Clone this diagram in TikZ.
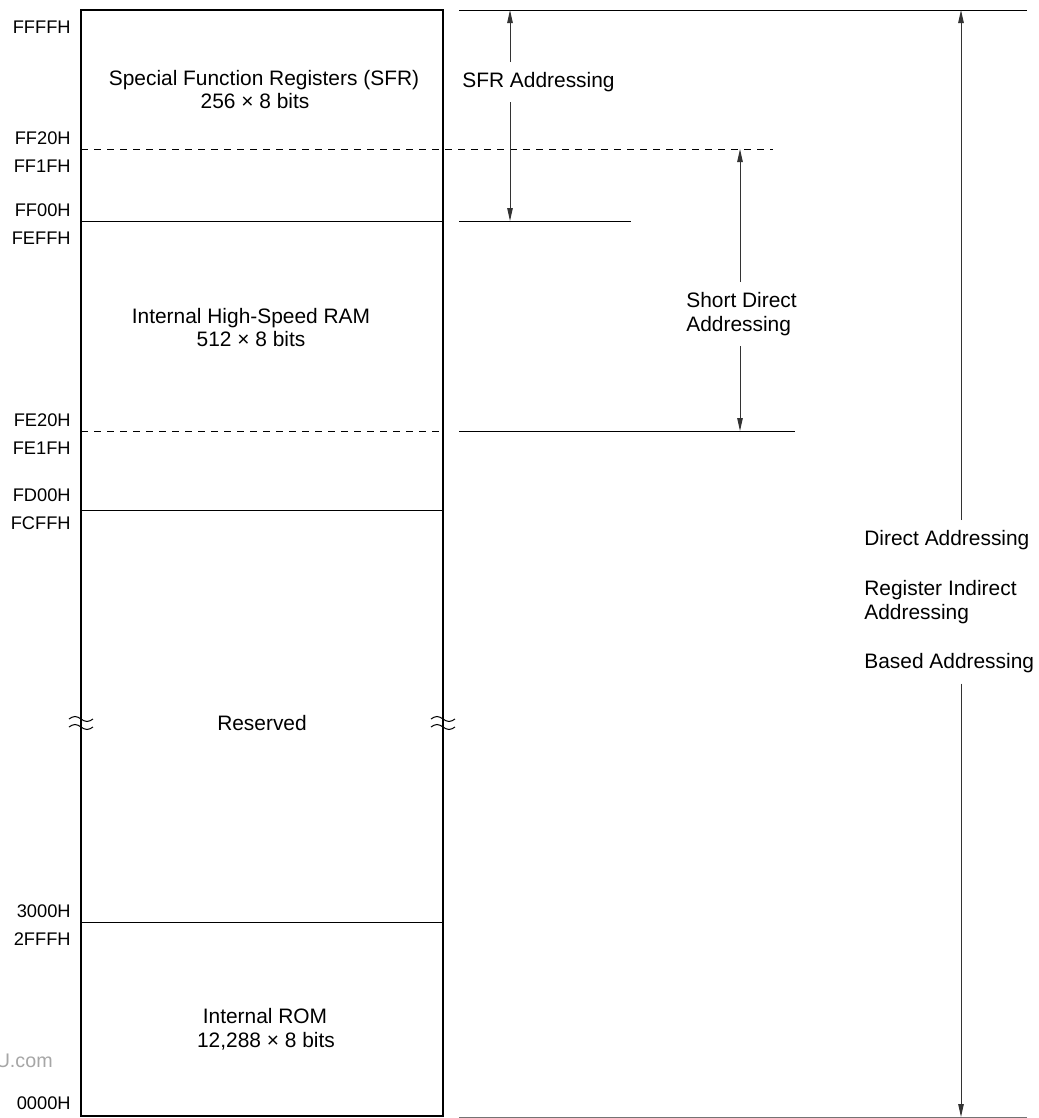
\documentclass[tikz,border=0pt]{standalone}
\usepackage{fontspec}
\setmainfont{Liberation Sans}
\usetikzlibrary{arrows.meta}
\tikzset{
    memmap/.style={
        x=0.2mm, y=-0.2mm,
        line cap=butt,
        every node/.style={inner sep=0pt},
    },
    addrlabel/.style={anchor=base east, font=\fontsize{10.4}{12}\selectfont},
    areatext/.style={anchor=base, font=\fontsize{11.9}{13.6}\selectfont},
    modelabel/.style={anchor=north west, align=left, inner xsep=0pt, inner ysep=2mm,
        font=\fontsize{11.9}{13.6}\selectfont},
    boxline/.style={line width=0.4mm},
    divline/.style={line width=0.2mm},
    divdash/.style={divline, dash pattern=on 1.4mm off 1.2mm},
    rangeline/.style={line width=0.2mm, black!80},
    rangearrow/.style={rangeline, -{Triangle[length=2.6mm,width=1.1mm]}},
}
\newcommand{\breakmark}[2]{%
    \foreach \dy in {-4,4} {%
        \draw[divline] ({#1-12},{#2+\dy}) sin ({#1-6},{#2+\dy-2.5}) cos (#1,{#2+\dy})
            sin ({#1+6},{#2+\dy+2.5}) cos ({#1+12},{#2+\dy});
    }}

\begin{document}
\begin{tikzpicture}
        [memmap]
        \useasboundingbox (0,0) rectangle (1039,1118);
        % memory space
        \draw[boxline] (81,10) rectangle (443,1116);
        \draw[divdash] (81,149) -- (773,149);
        \draw[divline] (81,221) -- (443,221);
        \draw[divdash] (81,431) -- (443,431);
        \draw[divline] (81,510) -- (443,510);
        \draw[divline] (81,922) -- (443,922);
        \breakmark{81}{723}
        \breakmark{443}{723}
        % area names
        \node[areatext] (sfrname) at (264,85) {Special Function Registers (SFR)};
        \node[areatext] (sfrsize) at (255,108) {256 × 8 bits};
        \node[areatext] (ramname) at (251,323) {Internal High-Speed RAM};
        \node[areatext] (ramsize) at (251,346) {512 × 8 bits};
        \node[areatext] (rsvname) at (262,730) {Reserved};
        \node[areatext] (romname) at (265,1023) {Internal ROM};
        \node[areatext] (romsize) at (266,1047) {12,288 × 8 bits};
        % addresses
        \foreach \addr/\ypos in {FFFFH/33, FF20H/144, FF1FH/172, FF00H/216, FEFFH/244,
                FE20H/426, FE1FH/454, FD00H/501, FCFFH/529, 3000H/917, 2FFFH/945, 0000H/1109}
            \node[addrlabel] (a\addr) at (71,\ypos) {\addr};
        \begin{scope}
            \clip (0,1040) rectangle (60,1080);
            \node[addrlabel, font=\fontsize{11.2}{13}\selectfont, black!35] (wmark) at (53,1067) {U.com};
        \end{scope}
        % addressing ranges
        \coordinate (toplim) at (1027,10);
        \coordinate (sfrlim) at (631,221);
        \coordinate (ramlim) at (795,431);
        \coordinate (botlim) at (1027,1117);
        \draw[divline] (459,10) -- (toplim);
        \draw[divline] (459,221) -- (sfrlim);
        \draw[divline] (459,431) -- (ramlim);
        \draw[divline, black!55] (459,1117) -- (botlim);
        \coordinate (sfrtop) at (510,10);
        \coordinate (sfrbot) at (510,221);
        \coordinate (shorttop) at (740,149);
        \coordinate (shortbot) at (740,431);
        \coordinate (dirtop) at (961,10);
        \coordinate (dirbot) at (961,1117);
        \node[modelabel] (sfrmode) at (462,62) {SFR Addressing};
        \node[modelabel] (shortmode) at (686,282) {Short Direct\\Addressing};
        \node[modelabel] (dirmode) at (864,520) {Direct Addressing\\[14.7pt]Register Indirect\\Addressing\\[14.7pt]Based Addressing};
        \draw[rangearrow] (sfrmode.north -| sfrtop) -- (sfrtop);
        \draw[rangearrow] (sfrmode.south -| sfrbot) -- (sfrbot);
        \draw[rangearrow] (shortmode.north -| shorttop) -- (shorttop);
        \draw[rangearrow] (shortmode.south -| shortbot) -- (shortbot);
        \draw[rangearrow] (dirmode.north -| dirtop) -- (dirtop);
        \draw[rangearrow] (dirmode.south -| dirbot) -- (dirbot);
    \end{tikzpicture}
\end{document}
